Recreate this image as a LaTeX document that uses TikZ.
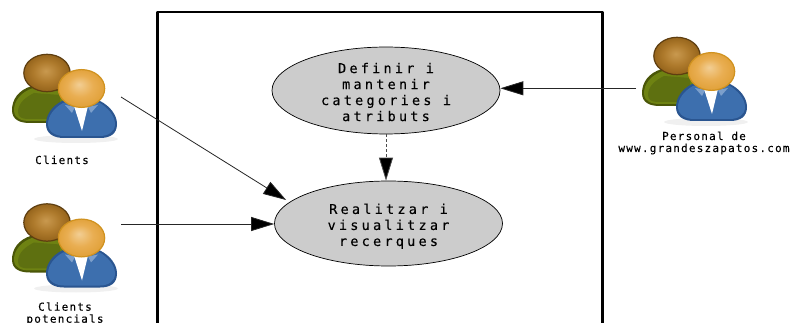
\documentclass[tikz,border=0pt]{standalone}
\usepackage{fontspec}
\usetikzlibrary{arrows.meta,shapes.geometric}
\newfontfamily\labelfont[LetterSpace=11,FakeBold=0.1]{DejaVu Sans Mono}
\newfontfamily\usecasefont[LetterSpace=24,FakeBold=0.2]{DejaVu Sans Mono}
\definecolor{framecol}{HTML}{000000}
\definecolor{ellfill}{HTML}{CCCCCC}
\definecolor{hA}{HTML}{F2CE94}\definecolor{hB}{HTML}{E9AE52}\definecolor{hC}{HTML}{DE9C30}
\pgfdeclareradialshading{fronthead}{\pgfpoint{-0.1cm}{0.2cm}}{color(0bp)=(hA);color(14bp)=(hB);color(30bp)=(hC)}
\definecolor{bA}{HTML}{C9994F}\definecolor{bB}{HTML}{AE7A2C}\definecolor{bC}{HTML}{8A5A14}
\pgfdeclareradialshading{backhead}{\pgfpoint{-0.05cm}{0.1cm}}{color(0bp)=(bA);color(14bp)=(bB);color(30bp)=(bC)}
\definecolor{gOut}{HTML}{4A5608}\definecolor{gFill}{HTML}{6E8212}\definecolor{gDark}{HTML}{5E7010}
\definecolor{blOut}{HTML}{2A5590}\definecolor{blFill}{HTML}{3D6FAE}\definecolor{blHi}{HTML}{7C9FCB}
\definecolor{frontOut}{HTML}{D0921F}\definecolor{backOut}{HTML}{5E3E10}
\tikzset{
  usecase/.style={ellipse,draw=black,line width=0.7pt,fill=ellfill,minimum width=228pt,minimum height=85pt,inner sep=0pt,align=center,font=\usecasefont\fontsize{13.5}{16}\selectfont},
  actorlabel/.style={inner sep=0pt,align=center,font=\labelfont\fontsize{11}{12}\selectfont},
  assoc/.style={draw=black!85,line width=0.8pt,-{Triangle[length=23pt,width=14pt,fill=black]}},
  depend/.style={draw=black!70,line width=0.8pt,dashed,dash pattern=on 3pt off 2pt,-{Triangle[length=23pt,width=14pt,fill=black]}},
  people/.pic={
    \fill[black,opacity=0.06] (76,139) ellipse (42 and 4);
    % back person
    \fill[gOut] (32,86) .. controls (18,90) and (12,100) .. (12,110) .. controls (12,120) and (20,123) .. (30,123) -- (62,123) -- (70,90) -- cycle;
    \fill[gFill] (33,88) .. controls (21,92) and (14,101) .. (14,110) .. controls (14,119) and (22,121) .. (30,121) -- (60,121) -- (68,92) -- cycle;
    \fill[gDark] (18,112) .. controls (18,103) and (26,97) .. (34,93) -- (60,95) -- (60,119) -- (28,119) .. controls (22,119) and (18,117) .. (18,112) -- cycle;
    \shade[shading=backhead,draw=backOut,line width=1.2pt] (47,73) ellipse (23.2 and 18.7);
    % front person
    \fill[blOut] (62,101) .. controls (52,106) and (46,115) .. (46,124) .. controls (46,134) and (54,138) .. (64,138) -- (100,138) .. controls (110,138) and (117,134) .. (117,124) .. controls (117,115) and (110,106) .. (100,101) -- cycle;
    \fill[blFill] (63,103) .. controls (54,108) and (48,116) .. (48,124) .. controls (48,132) and (56,136) .. (64,136) -- (100,136) .. controls (108,136) and (115,132) .. (115,124) .. controls (115,116) and (108,108) .. (100,103) -- cycle;
    \fill[blHi] (65,105) -- (75,107) -- (72,113) -- cycle;
    \fill[blHi] (98,105) -- (88,107) -- (91,113) -- cycle;
    \fill[white] (74,106) -- (88,106) -- (82,131) -- cycle;
    \shade[shading=fronthead,draw=frontOut,line width=1.2pt] (81.5,88.5) ellipse (23.2 and 18.9);
  }
}
\begin{document}
\begin{tikzpicture}[x=1pt,y=-1pt]
\useasboundingbox (0,0) rectangle (790,323);
\clip (0,0) rectangle (790,323);
\fill[white] (0,0) rectangle (790,323);
% system boundary
\draw[framecol,line width=2.4pt,line join=round] (157.5,335) -- (157.5,12.3) -- (602.5,12.3) -- (602.5,335);
% actors
\pic at (0,0) {people};
\pic at (0,149.5) {people};
\pic at (630,-17) {people};
\node[actorlabel,anchor=base] (clients) at (62,164) {Clients};
\node[actorlabel,anchor=base] (potencials) at (65,322.7) {Clients\\potencials};
\node[actorlabel,anchor=base] (personal) at (704,152) {Personal de\\www.grandeszapatos.com};
% use cases
\node[usecase] (definir) at (386,90.5) {\rule{0pt}{13.3pt}Definir i\\mantenir\\categories i\\atributs};
\node[usecase] (realitzar) at (388.5,223.5) {\rule{0pt}{15.7pt}Realitzar i\\visualitzar\\recerques};
% free ends
\coordinate (fromclients) at (121,97);
\coordinate (frompotencials) at (121,224);
\coordinate (frompersonal) at (636,88.3);
% connectors
\draw[assoc] (fromclients) -- ([shift={(-5,-1)}]realitzar.167.6);
\draw[assoc] (frompotencials) -- (frompotencials -| realitzar.west);
\draw[assoc] (frompersonal) -- (frompersonal -| definir.east);
\draw[depend] (definir.south) -- (definir.south |- realitzar.north);
\end{tikzpicture}
\end{document}
